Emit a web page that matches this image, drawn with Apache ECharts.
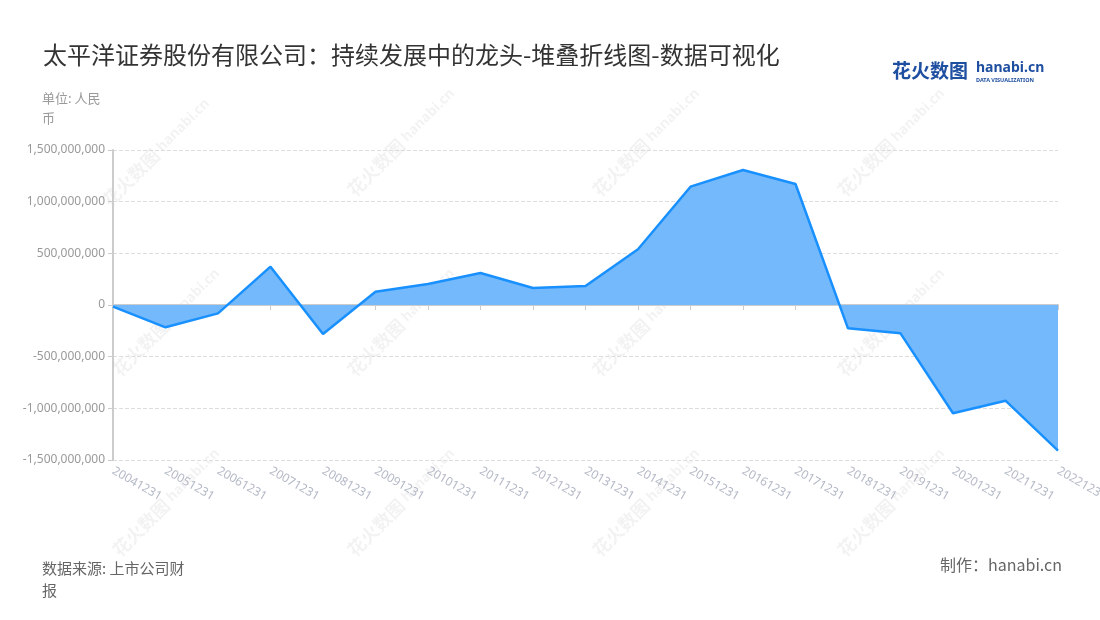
<!DOCTYPE html>
<html><head><meta charset="utf-8">
<script src="https://cdn.jsdelivr.net/npm/echarts@6/dist/echarts.min.js"></script>
<style>html,body{margin:0;padding:0;background:#fff}#c{width:1100px;height:620px}</style>
</head><body><div id="c"></div>
<script>
const categories = ['20041231','20051231','20061231','20071231','20081231','20091231','20101231','20111231','20121231','20131231','20141231','20151231','20161231','20171231','20181231','20191231','20201231','20211231','20221231'];
const values = [-16000000,-216000000,-81000000,371000000,-281000000,129000000,203000000,310000000,165000000,184000000,539000000,1145000000,1306000000,1171000000,-226000000,-274000000,-1048000000,-926000000,-1410000000];
const titleText = '太平洋证券股份有限公司：持续发展中的龙头-堆叠折线图-数据可视化';
const unitText = '单位: 人民\n币';
const sourceText = '数据来源: 上市公司财\n报';
const makerText = '制作：hanabi.cn';

const wmPos = [[150,160],[395,150],[640,150],[885,150],[160,330],[395,330],[640,330],[885,330],[160,510],[395,510],[640,510],[885,510]];
const wm = wmPos.map(p => ({
  type:'group', x:p[0], y:p[1], rotation:Math.PI/4, silent:true, z:0,
  children:[
    {type:'text', style:{text:'花火数图', x:-62, y:-10, font:'bold 18px "Noto Sans CJK SC"', fill:'rgba(0,0,0,0.05)'}},
    {type:'text', style:{text:'hanabi.cn', x:14, y:-8, font:'bold 14px "Noto Sans"', fill:'rgba(0,0,0,0.05)'}}
  ]
}));

const chart = echarts.init(document.getElementById('c'));
chart.setOption({
  backgroundColor:'#fff',
  animation:false,
  title:{text:titleText, left:38, top:38, textStyle:{fontSize:24, fontWeight:'normal', color:'#333', fontFamily:'"Noto Sans CJK SC"'}},
  grid:{left:113, right:42, top:150, bottom:160, containLabel:false, outerBoundsMode:'none'},
  xAxis:{type:'category', data:categories, boundaryGap:false,
    axisLine:{lineStyle:{color:'#ccc', width:2}},
    axisTick:{show:true, lineStyle:{color:'#ccc'}},
    axisLabel:{rotate:-30, color:'#b4b9c6', fontSize:12, fontFamily:'"Noto Sans"', margin:10, interval:0}},
  yAxis:{type:'value', min:-1500000000, max:1500000000, interval:500000000,
    axisLine:{show:true, lineStyle:{color:'#ccc', width:2}},
    axisTick:{show:true, lineStyle:{color:'#ccc'}},
    splitLine:{lineStyle:{type:'dashed', color:'#ddd'}},
    axisLabel:{color:'#999', fontSize:12, fontFamily:'"Noto Sans"', margin:8,
      formatter:v=>v.toLocaleString('en-US')}},
  series:[{type:'line', data:values, symbol:'none', z:3,
    lineStyle:{color:'#1890ff', width:2.5},
    areaStyle:{color:'#75b9fd', opacity:1, origin:0}}],
  graphic:[
    ...wm,
    {type:'text', left:42, top:88, style:{text:unitText, font:'13px "Noto Sans CJK SC"', fill:'#999', lineHeight:20}},
    {type:'text', left:42, top:557, style:{text:sourceText, font:'15px "Noto Sans CJK SC"', fill:'#666', lineHeight:22}},
    {type:'text', right:38, top:557, style:{text:makerText, font:'16px "Noto Sans CJK SC"', fill:'#666'}},
    {type:'text', left:892, top:61, style:{text:'花火数图', font:'bold 19px "Noto Sans CJK SC"', fill:'#1f4fa0'}},
    {type:'text', left:976, top:61, style:{text:'hanabi.cn', font:'bold 14px "Noto Sans"', fill:'#1f4fa0'}},
    {type:'text', left:976, top:77, style:{text:'DATA VISUALIZATION', font:'bold 5.5px "Noto Sans"', fill:'#1f4fa0'}}
  ]
});
</script></body></html>
